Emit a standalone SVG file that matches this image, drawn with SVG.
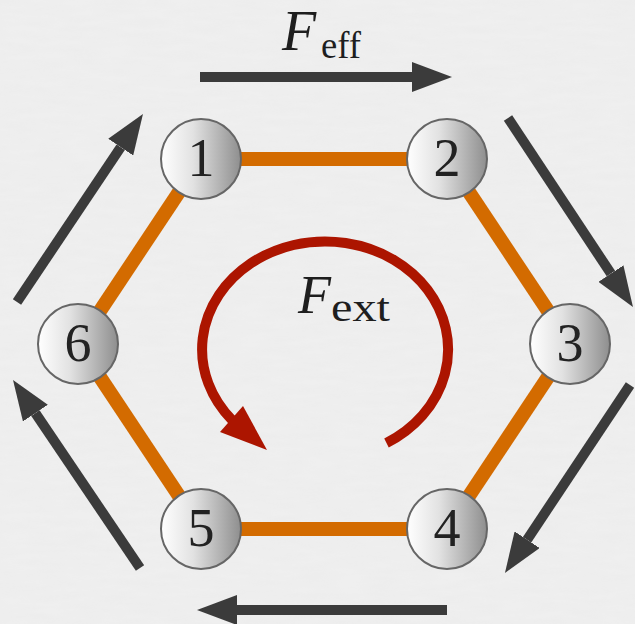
<svg xmlns="http://www.w3.org/2000/svg" width="635" height="624" viewBox="0 0 635 624">
  <style>
    .edge { stroke: #D36B00; stroke-width: 14; fill: none; stroke-linecap: butt; }
    .force { stroke: #3b3b3b; stroke-width: 10; fill: none; marker-end: url(#headDark); }
    .ball { fill: url(#ballGrad); stroke: #666666; stroke-width: 2; }
    .num { font-family: "Liberation Serif", "Times New Roman", serif; font-size: 54px; fill: #222222; text-anchor: middle; }
    .lbl { font-family: "Liberation Serif", "Times New Roman", serif; fill: #1e1e1e; }
    .ext { stroke: #AC1500; stroke-width: 10; fill: none; }
  </style>
  <defs>
    <linearGradient id="ballGrad" x1="0" y1="0" x2="1" y2="0">
      <stop offset="0" stop-color="#ffffff"/>
      <stop offset="0.4" stop-color="#e2e2e2"/>
      <stop offset="1" stop-color="#8e8e8e"/>
    </linearGradient>
    <marker id="headDark" markerUnits="userSpaceOnUse" markerWidth="40" markerHeight="30" viewBox="0 0 40 30" refX="0" refY="15" orient="auto">
      <path d="M0,0 L40,15 L0,30 z" fill="#3b3b3b"/>
    </marker>
    <filter id="paper" x="0" y="0" width="100%" height="100%">
      <feTurbulence type="fractalNoise" baseFrequency="0.03 0.15" numOctaves="3" seed="4" result="n"/>
      <feColorMatrix in="n" type="matrix" values="0 0 0 0 0.5  0 0 0 0 0.5  0 0 0 0 0.5  0.3 0 0 0 -0.08"/>
    </filter>
  </defs>

  <rect x="0" y="0" width="635" height="624" fill="#efefef"/>
  <rect x="0" y="0" width="635" height="624" filter="url(#paper)" opacity="0.25"/>

  <g id="connectors">
    <g id="hexagon">
      <line class="edge" x1="201" y1="159" x2="447" y2="159"/>
      <line class="edge" x1="447" y1="159" x2="570" y2="344"/>
      <line class="edge" x1="570" y1="344" x2="447" y2="529"/>
      <line class="edge" x1="447" y1="529" x2="201" y2="529"/>
      <line class="edge" x1="201" y1="529" x2="78" y2="344"/>
      <line class="edge" x1="78" y1="344" x2="201" y2="159"/>
    </g>
    <g id="effective-force">
      <line class="force" x1="200" y1="77" x2="412" y2="77"/>
      <line class="force" x1="508" y1="118" x2="610.9" y2="273.6"/>
      <line class="force" x1="630" y1="385" x2="527.1" y2="539.7"/>
      <line class="force" x1="447" y1="610" x2="237" y2="610"/>
      <line class="force" x1="140" y1="568" x2="35.4" y2="413.1"/>
      <line class="force" x1="17" y1="302" x2="120.7" y2="147.2"/>
    </g>
    <g id="external-force">
      <path class="ext" d="M386.5,443 A123,108 0 1 0 232,420"/>
      <polygon points="220,432 243,406 267,450" fill="#AC1500"/>
    </g>
  </g>

  <g id="node1"><circle class="ball" cx="201" cy="159" r="40"/><text class="num" x="201" y="176">1</text></g>
  <g id="node2"><circle class="ball" cx="447" cy="159" r="40"/><text class="num" x="447" y="176">2</text></g>
  <g id="node3"><circle class="ball" cx="570" cy="344" r="40"/><text class="num" x="570" y="361">3</text></g>
  <g id="node4"><circle class="ball" cx="447" cy="529" r="40"/><text class="num" x="447" y="546">4</text></g>
  <g id="node5"><circle class="ball" cx="201" cy="529" r="40"/><text class="num" x="201" y="546">5</text></g>
  <g id="node6"><circle class="ball" cx="78" cy="344" r="40"/><text class="num" x="78" y="361">6</text></g>

  <g id="label-feff">
    <text class="lbl" x="282" y="50" font-size="56" font-style="italic">F</text>
    <text class="lbl" x="321" y="58" font-size="38" textLength="40" lengthAdjust="spacingAndGlyphs">eff</text>
  </g>
  <g id="label-fext">
    <text class="lbl" x="298" y="313" font-size="54" font-style="italic">F</text>
    <text class="lbl" x="331" y="321" font-size="40" textLength="59" lengthAdjust="spacingAndGlyphs">ext</text>
  </g>
</svg>
